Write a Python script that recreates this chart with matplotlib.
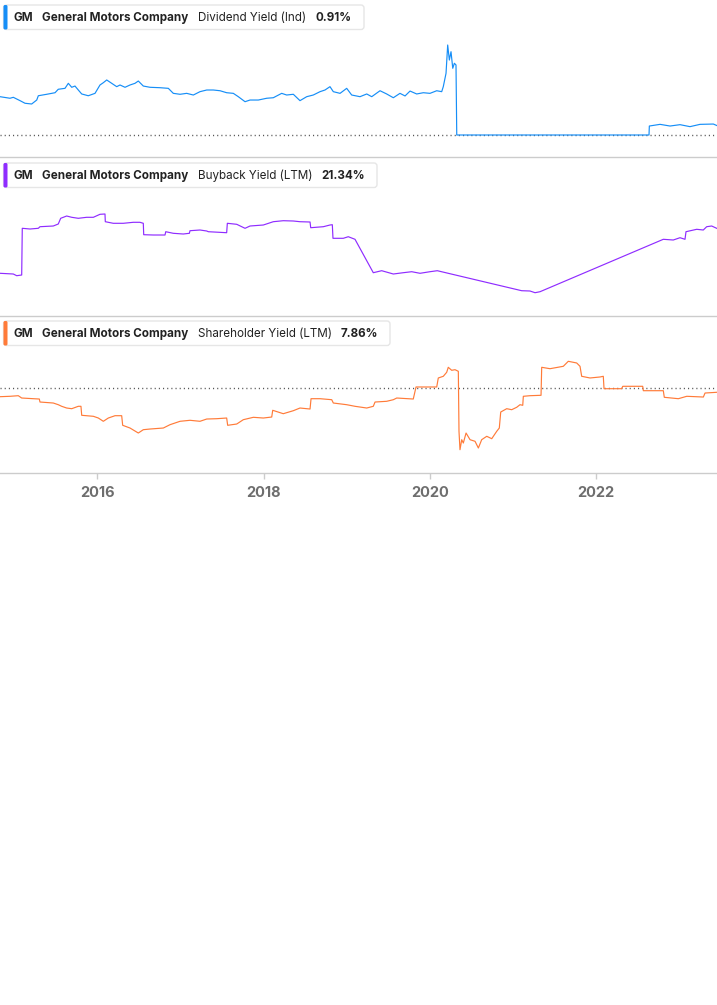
import matplotlib
matplotlib.use("Agg")
import matplotlib.pyplot as plt
from matplotlib.patches import FancyBboxPatch

# ---------------- data ----------------
ticker = "GM"
company = "General Motors Company"
metrics = ["Dividend Yield (Ind)", "Buyback Yield (LTM)", "Shareholder Yield (LTM)"]
metric_values = ["0.91%", "21.34%", "7.86%"]
year_ticks = [2016, 2018, 2020, 2022]
year_labels = ["2016", "2018", "2020", "2022"]

div_t = [2014.829, 2014.949, 2014.989, 2015.070, 2015.130, 2015.210, 2015.271, 2015.290, 2015.391, 2015.491,
         2015.530, 2015.611, 2015.651, 2015.692, 2015.731, 2015.771, 2015.812, 2015.891, 2015.972, 2016.032,
         2016.072, 2016.113, 2016.173, 2016.233, 2016.273, 2016.333, 2016.393, 2016.453, 2016.493, 2016.553,
         2016.634, 2016.754, 2016.854, 2016.914, 2016.995, 2017.075, 2017.155, 2017.235, 2017.316, 2017.395,
         2017.476, 2017.556, 2017.636, 2017.696, 2017.777, 2017.837, 2017.937, 2018.038, 2018.117, 2018.218,
         2018.278, 2018.358, 2018.438, 2018.519, 2018.598, 2018.679, 2018.739, 2018.799, 2018.839, 2018.920,
         2019.000, 2019.060, 2019.160, 2019.241, 2019.301, 2019.401, 2019.481, 2019.561, 2019.641, 2019.702,
         2019.762, 2019.842, 2019.922, 2020.002, 2020.083, 2020.143, 2020.162, 2020.195, 2020.215, 2020.235,
         2020.255, 2020.276, 2020.295, 2020.315, 2020.324, 2022.637, 2022.641, 2022.770, 2022.890, 2023.010,
         2023.130, 2023.251, 2023.411, 2023.452]
div_v = [3.67, 3.52, 3.61, 3.29, 3.04, 2.97, 3.35, 3.76, 3.90, 4.05,
         4.38, 4.47, 4.95, 4.57, 4.69, 4.31, 3.93, 3.76, 3.99, 4.79,
         5.01, 5.27, 4.95, 4.63, 4.79, 4.57, 4.79, 4.95, 5.17, 4.69,
         4.57, 4.53, 4.47, 3.99, 3.90, 3.99, 3.83, 4.15, 4.31, 4.31,
         4.24, 4.05, 3.99, 3.67, 3.19, 3.35, 3.35, 3.52, 3.57, 3.99,
         3.83, 3.90, 3.29, 3.67, 3.83, 4.15, 4.31, 4.63, 4.15, 3.99,
         4.47, 3.83, 3.67, 3.93, 3.67, 4.24, 3.93, 3.57, 3.99, 3.74,
         4.21, 3.93, 4.05, 3.99, 4.24, 4.15, 4.63, 5.91, 8.62, 7.18,
         7.98, 6.39, 6.87, 6.71, 0.0, 0.0, 0.86, 1.02, 0.86, 0.99,
         0.80, 1.02, 1.05, 0.91]

buy_t = [2014.829, 2014.989, 2015.030, 2015.090, 2015.097, 2015.190, 2015.290, 2015.310, 2015.470, 2015.530,
         2015.559, 2015.631, 2015.692, 2015.771, 2015.872, 2015.952, 2016.032, 2016.092, 2016.096, 2016.192,
         2016.312, 2016.433, 2016.513, 2016.553, 2016.558, 2016.673, 2016.814, 2016.823, 2016.914, 2017.034,
         2017.107, 2017.115, 2017.235, 2017.316, 2017.335, 2017.556, 2017.564, 2017.677, 2017.777, 2017.837,
         2017.997, 2018.117, 2018.237, 2018.358, 2018.438, 2018.559, 2018.567, 2018.719, 2018.799, 2018.827,
         2018.835, 2018.959, 2019.019, 2019.100, 2019.320, 2019.421, 2019.561, 2019.681, 2019.782, 2019.882,
         2020.002, 2020.090, 2021.105, 2021.205, 2021.266, 2021.326, 2022.809, 2022.929, 2023.010, 2023.070,
         2023.082, 2023.211, 2023.290, 2023.331, 2023.391, 2023.451]
buy_v = [9.19, 9.00, 8.54, 8.73, 21.34, 21.15, 21.34, 21.77, 21.96, 22.50,
         24.04, 24.66, 24.31, 24.04, 24.31, 24.31, 25.12, 25.20, 23.12, 22.69,
         22.69, 22.96, 22.96, 22.69, 19.61, 19.53, 19.53, 20.42, 19.99, 19.80,
         19.99, 20.69, 20.88, 20.61, 20.42, 20.15, 22.69, 22.42, 21.34, 21.96,
         22.23, 23.12, 23.39, 23.31, 23.12, 23.04, 21.50, 21.77, 22.23, 22.31,
         18.64, 18.64, 19.07, 18.37, 9.35, 9.89, 9.00, 9.35, 9.62, 9.19,
         9.62, 9.89, 4.49, 4.41, 3.95, 4.22, 18.37, 18.18, 18.80, 18.37,
         20.42, 21.07, 20.88, 21.77, 21.96, 21.34]

sh_t = [2014.829, 2014.949, 2015.049, 2015.090, 2015.230, 2015.302, 2015.310, 2015.470, 2015.530, 2015.571,
        2015.631, 2015.692, 2015.771, 2015.803, 2015.812, 2015.952, 2016.012, 2016.072, 2016.132, 2016.213,
        2016.293, 2016.305, 2016.393, 2016.493, 2016.553, 2016.634, 2016.794, 2016.874, 2016.995, 2017.115,
        2017.235, 2017.316, 2017.436, 2017.556, 2017.568, 2017.677, 2017.756, 2017.877, 2017.997, 2018.098,
        2018.110, 2018.237, 2018.358, 2018.438, 2018.559, 2018.571, 2018.679, 2018.820, 2018.839, 2019.000,
        2019.100, 2019.241, 2019.320, 2019.341, 2019.481, 2019.561, 2019.602, 2019.801, 2019.834, 2020.083,
        2020.102, 2020.162, 2020.203, 2020.222, 2020.263, 2020.303, 2020.343, 2020.351, 2020.363, 2020.384,
        2020.403, 2020.436, 2020.484, 2020.544, 2020.584, 2020.624, 2020.685, 2020.745, 2020.805, 2020.836,
        2020.853, 2020.925, 2020.985, 2021.045, 2021.085, 2021.118, 2021.125, 2021.205, 2021.338, 2021.346,
        2021.446, 2021.606, 2021.666, 2021.767, 2021.807, 2021.827, 2021.927, 2022.048, 2022.087, 2022.096,
        2022.309, 2022.321, 2022.561, 2022.569, 2022.809, 2022.821, 2022.990, 2023.091, 2023.291, 2023.311,
        2023.451]
sh_v = [-2.10, -2.00, -1.85, -2.43, -2.60, -2.68, -3.43, -3.68, -4.10, -4.50,
        -4.93, -5.10, -4.50, -4.50, -6.75, -7.00, -7.43, -8.25, -7.43, -6.85,
        -6.85, -9.25, -9.93, -11.18, -10.35, -10.18, -9.93, -9.10, -8.25, -8.00,
        -8.25, -7.68, -7.60, -7.43, -9.25, -8.93, -7.85, -7.25, -7.43, -7.18,
        -5.50, -6.35, -5.60, -4.93, -5.18, -2.60, -2.60, -2.85, -3.68, -4.10,
        -4.50, -4.93, -4.50, -3.43, -3.25, -2.85, -2.43, -2.68, 0.33, 0.33,
        2.58, 3.00, 4.00, 5.25, 4.50, 4.65, 4.25, -10.75, -15.35, -12.85,
        -13.68, -11.18, -12.85, -13.25, -14.93, -12.85, -12.00, -12.60, -10.75, -9.93,
        -5.93, -5.10, -5.35, -4.75, -4.10, -4.25, -2.00, -1.85, -1.75, 5.25,
        4.90, 5.50, 6.75, 6.33, 5.50, 3.00, 2.58, 2.83, 3.00, -0.10,
        -0.10, 0.50, 0.50, -0.60, -0.60, -2.25, -2.60, -2.00, -2.18, -1.18,
        -1.00]

colors = ["#168ef7", "#8f2cff", "#ff7b39"]
series_t = [div_t, buy_t, sh_t]
series_v = [div_v, buy_v, sh_v]
ylims = [(-2.155, 12.931), (-2.339, 40.456), (-21.175, 18.075)]
show_zero = [True, False, True]

# ---------------- layout ----------------
W, H = 717, 1005
fig = plt.figure(figsize=(W / 100, H / 100), dpi=100)
fig.patch.set_facecolor("white")
plt.rcParams["font.family"] = ["Inter", "DejaVu Sans"]

panels_px = [(0, 157.5), (157.5, 316), (316, 473)]
xlim = (2014.829, 2023.455)
for i, (top, bot) in enumerate(panels_px):
    ax = fig.add_axes([0, 1 - bot / H, 1, (bot - top) / H])
    ax.set_facecolor("none")
    ax.plot(series_t[i], series_v[i], color=colors[i], lw=0.85, solid_joinstyle="round")
    if show_zero[i]:
        ax.axhline(0, color="#555555", lw=1.0, ls=(0, (0.8, 2.2)), zorder=0)
    ax.set_xlim(*xlim)
    ax.set_ylim(*ylims[i])
    for s in ["top", "left", "right"]:
        ax.spines[s].set_visible(False)
    ax.spines["bottom"].set_color("#cccccc")
    ax.spines["bottom"].set_linewidth(1.0)
    ax.set_yticks([])
    if i < 2:
        ax.set_xticks([])
    else:
        ax.set_xticks(year_ticks)
        ax.set_xticklabels(year_labels)
        ax.tick_params(axis="x", length=4, width=1, color="#cccccc", pad=5,
                       labelsize=10.5, labelcolor="#6e6e6e")
        for lab in ax.get_xticklabels():
            lab.set_fontweight("bold")

# overlay for legend boxes (pixel coordinates)
ov = fig.add_axes([0, 0, 1, 1])
ov.set_xlim(0, W)
ov.set_ylim(H, 0)
ov.axis("off")
ov.patch.set_alpha(0)

box_tops = [5, 163, 321]
box_rights = [364, 377, 390]
value_x = [315, 321, 340.5]
for i in range(3):
    y0 = box_tops[i]
    h = 24.5
    box = FancyBboxPatch((3.5, y0), box_rights[i] - 3.5, h,
                         boxstyle="round,pad=0,rounding_size=3",
                         facecolor="white", edgecolor="#e6e6e6", lw=1.0)
    ov.add_patch(box)
    bar = FancyBboxPatch((3.5, y0), 4, h, boxstyle="round,pad=0,rounding_size=1.5",
                         facecolor=colors[i], edgecolor="none")
    ov.add_patch(bar)
    yc = y0 + h / 2 + 0.5
    kw = dict(va="center", ha="left", fontsize=8.4, color="#222222")
    ov.text(13, yc, ticker, fontweight="bold", **kw)
    ov.text(42, yc, company, fontweight="bold", **kw)
    ov.text(198, yc, metrics[i], fontweight="normal", **kw)
    ov.text(value_x[i], yc, metric_values[i], fontweight="bold", **kw)

fig.savefig("out.png", dpi=100, facecolor="white")
